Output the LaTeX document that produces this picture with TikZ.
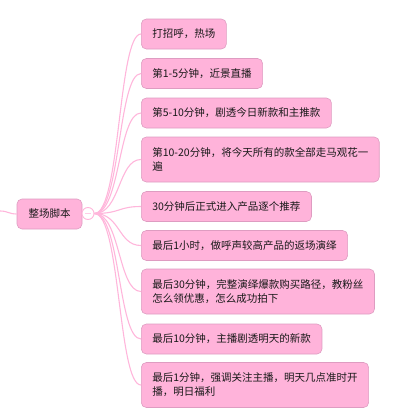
\documentclass[tikz,border=0pt]{standalone}
\usepackage{fontspec}
\newfontfamily\cjk{Noto Sans CJK SC}
\definecolor{boxpink}{HTML}{FFB3DA}
\definecolor{edgepink}{HTML}{DE9CC1}
\definecolor{linkpink}{HTML}{FFB6DB}

\begin{document}
\begin{tikzpicture}[x=1pt,y=-1pt,
  topic/.style={draw=edgepink,fill=boxpink,rounded corners=5pt,line width=0.6pt,
    inner xsep=11pt,inner ysep=3pt,minimum height=30pt,align=left,
    font=\cjk\fontsize{10.5}{14}\selectfont,text=black!90},
  sub/.style={topic,anchor=west},
  twoline/.style={minimum height=45pt},
  link/.style={draw=linkpink,line width=1.1pt}]
  \useasboundingbox (0,0) rectangle (414,415);
  % main topic
  \coordinate (stub) at (0,211);
  \node[topic,minimum width=65pt,align=center] (root) at (49.5,214) {整场脚本};
  \draw[link] (stub) .. controls +(8,0) and +(-8,0) .. (root.west);
  \node[circle,draw=linkpink,fill=white,line width=0.9pt,minimum size=12pt,inner sep=0pt] (fold) at (88,213.5) {};
  \draw[linkpink!70,line width=0.8pt] ([xshift=-3pt]fold.center) -- ([xshift=3pt]fold.center);
  % subtopics
  \node[sub] (s1) at (141,34) {打招呼，热场};
  \node[sub] (s2) at (141,73.5) {第1-5分钟，近景直播};
  \node[sub] (s3) at (141,113) {第5-10分钟，剧透今日新款和主推款};
  \node[sub,twoline] (s4) at (141,159.5) {第10-20分钟，将今天所有的款全部走马观花一\\遍};
  \node[sub] (s5) at (141,206.5) {30分钟后正式进入产品逐个推荐};
  \node[sub] (s6) at (141,245.5) {最后1小时，做呼声较高产品的返场演绎};
  \node[sub,twoline] (s7) at (141,291.5) {最后30分钟，完整演绎爆款购买路径，教粉丝\\怎么领优惠，怎么成功拍下};
  \node[sub] (s8) at (141,339) {最后10分钟，主播剧透明天的新款};
  \node[sub,twoline] (s9) at (141,385) {最后1分钟，强调关注主播，明天几点准时开\\播，明日福利};
  % branches
  \foreach \s in {s1,s2,s3,s4,s5,s6,s7,s8,s9}
    \draw[link] (fold.east) .. controls +(26,0) and +(-23,0) .. (\s.west);
\end{tikzpicture}
\end{document}
